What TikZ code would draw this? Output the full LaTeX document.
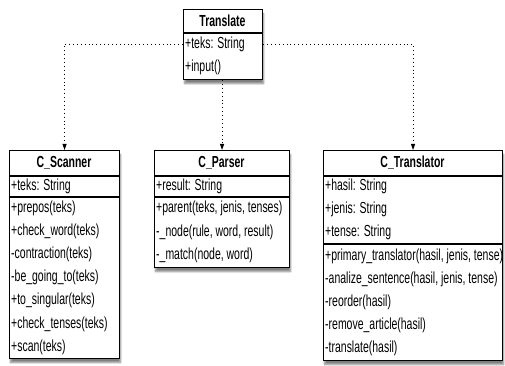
\documentclass[tikz,border=0pt]{standalone}
\usepackage{fontspec}
\newfontfamily\narrow[FakeStretch=0.655]{Liberation Sans}
\usetikzlibrary{arrows.meta,shadows.blur}
\begin{document}
\begin{tikzpicture}[x=1pt,y=-1pt,
  cls/.style={draw, line width=1.1pt, fill=white, inner sep=0pt, anchor=north west,
    blur shadow={shadow xshift=1pt, shadow yshift=-4pt, shadow blur steps=8, shadow opacity=50}},
  row/.style={anchor=west, inner sep=0pt, font=\narrow\fontsize{16}{16}\selectfont},
  ttl/.style={anchor=center, inner sep=0pt, font=\narrow\bfseries\fontsize{16}{16}\selectfont},
  sep/.style={line width=1.1pt},
  conn/.style={line width=0.9pt, dash pattern=on 0.9pt off 3pt, -{Triangle[width=4pt,length=6pt]}}]
\useasboundingbox (0,0) rectangle (505,366);

% Translate
\node[cls, minimum width=79pt, minimum height=70pt] (translate) at (183,9) {};
\node[ttl] (trt) at (222.5,21) {Translate};
\draw[sep] (183,33) -- (262,33);
\node[row] (trteks) at (185,44) {+teks: String};
\node[row] (trin) at (185,67) {+input()};

% C_Scanner
\node[cls, minimum width=110pt, minimum height=208pt] (scanner) at (9,150) {};
\node[ttl] (sct) at (64,163) {C\_Scanner};
\draw[sep] (9,176) -- (119,176);
\node[row] (sc1) at (11,186) {+teks: String};
\draw[sep] (9,197) -- (119,197);
\node[row] (sc2) at (11,208) {+prepos(teks)};
\node[row] (sc3) at (11,231) {+check\_word(teks)};
\node[row] (sc4) at (11,254) {-contraction(teks)};
\node[row] (sc5) at (11,277) {-be\_going\_to(teks)};
\node[row] (sc6) at (11,300) {+to\_singular(teks)};
\node[row] (sc7) at (11,324) {+check\_tenses(teks)};
\node[row] (sc8) at (11,347) {+scan(teks)};

% C_Parser
\node[cls, minimum width=135pt, minimum height=117pt] (parser) at (154,150) {};
\node[ttl] (pat) at (221.5,163) {C\_Parser};
\draw[sep] (154,176) -- (289,176);
\node[row] (pa1) at (156,186) {+result: String};
\draw[sep] (154,197) -- (289,197);
\node[row] (pa2) at (156,208) {+parent(teks, jenis, tenses)};
\node[row] (pa3) at (156,232) {-\_node(rule, word, result)};
\node[row] (pa4) at (156,255) {-\_match(node, word)};

% C_Translator
\node[cls, minimum width=179pt, minimum height=210pt] (translator) at (323,150) {};
\node[ttl] (tlt) at (412.5,163) {C\_Translator};
\draw[sep] (323,176) -- (502,176);
\node[row] (tl1) at (325,186) {+hasil: String};
\node[row] (tl2) at (325,209) {+jenis: String};
\node[row] (tl3) at (325,232) {+tense: String};
\draw[sep] (323,244) -- (502,244);
\node[row] (tl4) at (325,256) {+primary\_translator(hasil, jenis, tense)};
\node[row] (tl5) at (325,279) {-analize\_sentence(hasil, jenis, tense)};
\node[row] (tl6) at (325,302) {-reorder(hasil)};
\node[row] (tl7) at (325,325) {-remove\_article(hasil)};
\node[row] (tl8) at (325,348) {-translate(hasil)};

% connectors
\draw[conn] (translate.west |- trteks.center) -| (scanner.north);
\draw[conn] (translate.south -| parser.north) -- (parser.north);
\draw[conn] (translate.east |- trteks.center) -| (translator.north);
\end{tikzpicture}
\end{document}
